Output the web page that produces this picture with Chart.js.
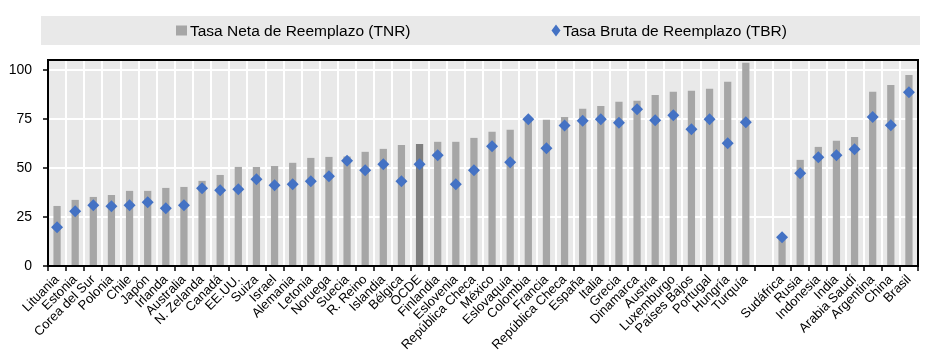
<!DOCTYPE html>
<html><head><meta charset="utf-8">
<script src="https://cdn.jsdelivr.net/npm/chart.js@4.4.1/dist/chart.umd.min.js"></script>
<style>html,body{margin:0;padding:0;background:#fff;}#wrap{position:relative;width:952px;height:355px;}</style>
</head><body><div id="wrap"><canvas id="c" width="952" height="355"></canvas></div>
<script>
const categories = ['Lituania','Estonia','Corea del Sur','Polonia','Chile','Japón','Irlanda','Australia','N. Zelanda','Canadá','EE.UU.','Suiza','Israel','Alemania','Letonia','Noruega','Suecia','R. Reino','Islandia','Bélgica','OCDE','Finlandia','Eslovenia','República Checa','México','Eslovaquia','Colombia','Francia','República Checa','España','Italia','Grecia','Dinamarca','Austria','Luxemburgo','Países Bajos','Portugal','Hungría','Turquía','','Sudáfrica','Rusia','Indonesia','India','Arabia Saudí','Argentina','China','Brasil'];
const tnrValues = [30.6,33.7,35.2,36.2,38.3,38.3,39.8,40.3,43.4,46.4,50.5,50.5,51.0,52.6,55.1,55.6,55.8,58.2,59.7,61.7,62.2,63.3,63.3,65.3,68.4,69.4,74.0,74.5,76.0,80.1,81.6,83.7,84.2,87.2,88.8,89.3,90.3,93.9,103.6,null,13.5,54.1,60.7,63.8,65.8,88.8,92.3,97.4];
const tbrValues = [19.7,27.9,31.0,30.4,31.0,32.5,29.4,31.0,39.6,38.6,39.1,44.2,41.2,41.7,43.2,45.7,53.6,48.8,51.9,43.2,51.9,56.5,41.7,48.8,61.1,52.9,74.8,60.0,71.6,74.0,74.8,73.0,79.9,74.3,76.9,69.7,74.8,62.6,73.3,null,14.6,47.3,55.4,56.5,59.5,75.9,71.8,88.6];
const yTicks = [0,25,50,75,100];
const seriesNames = ['Tasa Neta de Reemplazo (TNR)','Tasa Bruta de Reemplazo (TBR)'];
const highlightCategory = 'OCDE';

const FONT = "'Liberation Sans', Arial, sans-serif";
const BAR = '#a6a6a6', BAR_DARK = '#7f7f7f', BLUE = '#4472c4', BG = '#e9e9e9';

const decor = {
  id: 'decor',
  beforeDraw(chart) {
    const {ctx, chartArea: a} = chart;
    ctx.save();
    ctx.fillStyle = BG;
    ctx.fillRect(a.left, a.top, a.right - a.left, a.bottom - a.top);
    // legend box
    ctx.fillRect(41, 16, 879, 29);
    ctx.restore();
  },
  afterDraw(chart) {
    const {ctx, chartArea: a} = chart;
    ctx.save();
    ctx.strokeStyle = '#000';
    ctx.lineWidth = 2;
    ctx.strokeRect(a.left, a.top, a.right - a.left, a.bottom - a.top);
    // legend
    const cy = 30.5;
    ctx.font = '15.5px ' + FONT;
    ctx.textBaseline = 'middle';
    ctx.fillStyle = '#000';
    ctx.fillStyle = BAR;
    ctx.fillRect(176, cy - 5, 11, 10);
    ctx.fillStyle = '#000';
    ctx.fillText(seriesNames[0], 190, cy + 1);
    ctx.fillStyle = BLUE;
    ctx.beginPath();
    ctx.moveTo(556, cy - 6); ctx.lineTo(560.5, cy); ctx.lineTo(556, cy + 6); ctx.lineTo(551.5, cy);
    ctx.closePath(); ctx.fill();
    ctx.fillStyle = '#000';
    ctx.fillText(seriesNames[1], 563, cy + 1);
    ctx.restore();
  }
};

new Chart(document.getElementById('c'), {
  type: 'bar',
  data: {
    labels: categories,
    datasets: [
      {
        type: 'line', label: seriesNames[1], data: tbrValues, showLine: false,
        pointStyle: 'rectRot', pointRadius: 6, pointHoverRadius: 6,
        backgroundColor: BLUE, borderColor: BLUE, borderWidth: 0, order: 0
      },
      {
        type: 'bar', label: seriesNames[0], data: tnrValues, order: 1,
        backgroundColor: c => categories[c.dataIndex] === highlightCategory ? BAR_DARK : BAR,
        barPercentage: 0.4, categoryPercentage: 1.0, borderWidth: 0
      }
    ]
  },
  options: {
    responsive: false, animation: false, devicePixelRatio: 1,
    layout: {padding: {top: 60, right: 34, left: 0, bottom: 0}},
    plugins: {legend: {display: false}, tooltip: {enabled: false}},
    scales: {
      x: {
        grid: {color: '#fff', lineWidth: 2, tickColor: '#000', tickLength: 5, tickWidth: 1.5, offset: true},
        border: {display: false},
        ticks: {minRotation: 45, maxRotation: 45, autoSkip: false, color: '#000', font: {family: FONT, size: 13}, padding: 1},
        afterFit: s => { s.height = 89; }
      },
      y: {
        min: 0, max: 105,
        afterBuildTicks: s => { s.ticks = yTicks.map(v => ({value: v})); },
        grid: {color: '#fff', lineWidth: 2, tickColor: '#000', tickLength: 5, tickWidth: 1.5},
        border: {display: false},
        ticks: {color: '#000', font: {family: FONT, size: 14}, padding: 11},
        afterFit: s => { s.width = 48; }
      }
    }
  },
  plugins: [decor]
});
</script>
</body></html>
